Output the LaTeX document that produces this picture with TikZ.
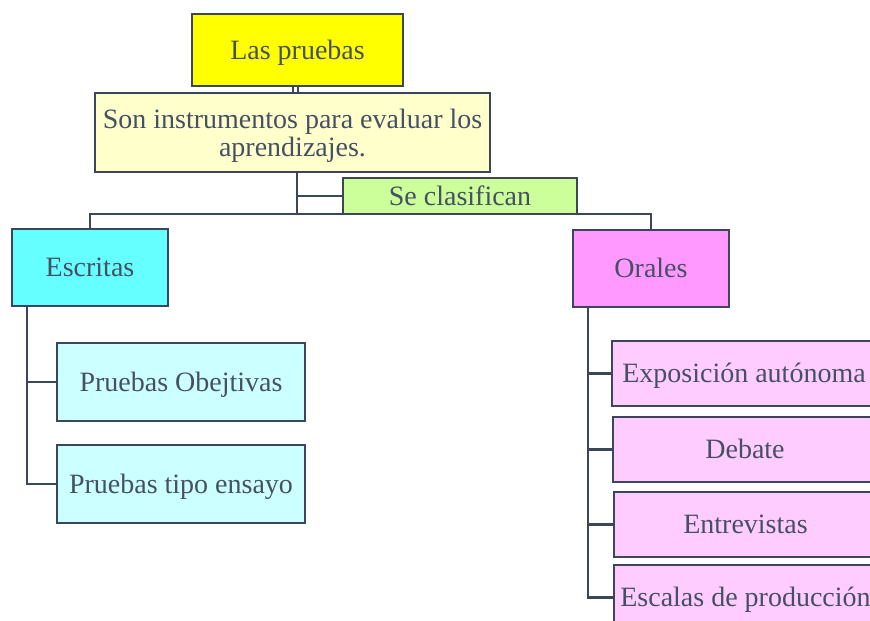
\documentclass[tikz,border=0pt]{standalone}
\usepackage{fontspec}
\setmainfont{Liberation Serif}
\usepackage{xcolor}
\usetikzlibrary{positioning,calc}
\definecolor{edgecol}{HTML}{3B4759}
\definecolor{txtcol}{HTML}{465064}
\definecolor{topfill}{HTML}{FFFF00}
\definecolor{deffill}{HTML}{FFFFCC}
\definecolor{clasfill}{HTML}{CCFF99}
\definecolor{escrfill}{HTML}{66FFFF}
\definecolor{escrsub}{HTML}{CCFFFF}
\definecolor{oralfill}{HTML}{FF99FF}
\definecolor{oralsub}{HTML}{FFCCFF}
\tikzset{
  boxbase/.style={draw=edgecol, line width=2.5pt, inner sep=0pt, align=center,
    text=txtcol, font=\fontsize{28}{28}\selectfont},
  box/.style={boxbase, text height=18.5pt, text depth=0pt},
  link/.style={draw=edgecol, line width=2.5pt}
}

\begin{document}
\begin{tikzpicture}[x=1pt,y=-1pt]
    \clip (0,0) rectangle (870,621);
    % top
    \node [box, fill=topfill, minimum width=211pt, minimum height=72pt] (top) at (297.5,50) {Las pruebas};
    \node [boxbase, text depth=0pt, fill=deffill, minimum width=395pt, minimum height=79pt] (def) at (292.5,132.5) {Son instrumentos para evaluar los\\aprendizajes.};
    \node [box, fill=clasfill, minimum width=234pt, minimum height=36pt] (clas) at (460,196) {Se clasifican};
    \draw [link, line width=2pt, double=white, double distance=3pt] ([xshift=-2.5pt]top.south) -- ([xshift=-2.5pt]top.south |- def.north);

    % branches
    \node [box, fill=escrfill, minimum width=156pt, minimum height=77pt] (escr) at (90,267.5) {Escritas};
    \node [box, fill=oralfill, minimum width=156pt, minimum height=77pt] (oral) at (651,268.5) {Orales};
    \coordinate (hub) at (297,214);
    \draw [link] (def.south -| hub) -- (hub);
    \draw [link] (hub |- clas.west) -- (clas.west);
    \draw [link] (escr.north) -- (escr.north |- hub) -- (oral.north |- hub) -- (oral.north);

    % Escritas
    \node [box, fill=escrsub, minimum width=248pt, minimum height=78pt] (obj) at (181,382) {Pruebas Obejtivas};
    \node [box, fill=escrsub, minimum width=248pt, minimum height=78pt] (ens) at (181,484) {Pruebas tipo ensayo};
    \coordinate (escrbus) at ([xshift=16pt]escr.south west);
    \draw [link] (escrbus) |- (obj.west);
    \draw [link] (escrbus) |- (ens.west);

    % Orales
    \node [box, fill=oralsub, minimum width=264pt, minimum height=65pt] (expo) at (744,373.5) {Exposición autónoma};
    \node [box, fill=oralsub, minimum width=264pt, minimum height=65pt] (deb) at (745,449.5) {Debate};
    \node [box, fill=oralsub, minimum width=263pt, minimum height=65pt] (entr) at (745.5,524.5) {Entrevistas};
    \node [box, fill=oralsub, minimum width=263pt, minimum height=65pt] (esc) at (745.5,597.5) {Escalas de producción};
    \coordinate (oralbus) at ([xshift=16pt]oral.south west);
    \draw [link] (oralbus) |- (expo.west);
    \draw [link] (oralbus) |- (deb.west);
    \draw [link] (oralbus) |- (entr.west);
    \draw [link] (oralbus) |- (esc.west);
\end{tikzpicture}
\end{document}
